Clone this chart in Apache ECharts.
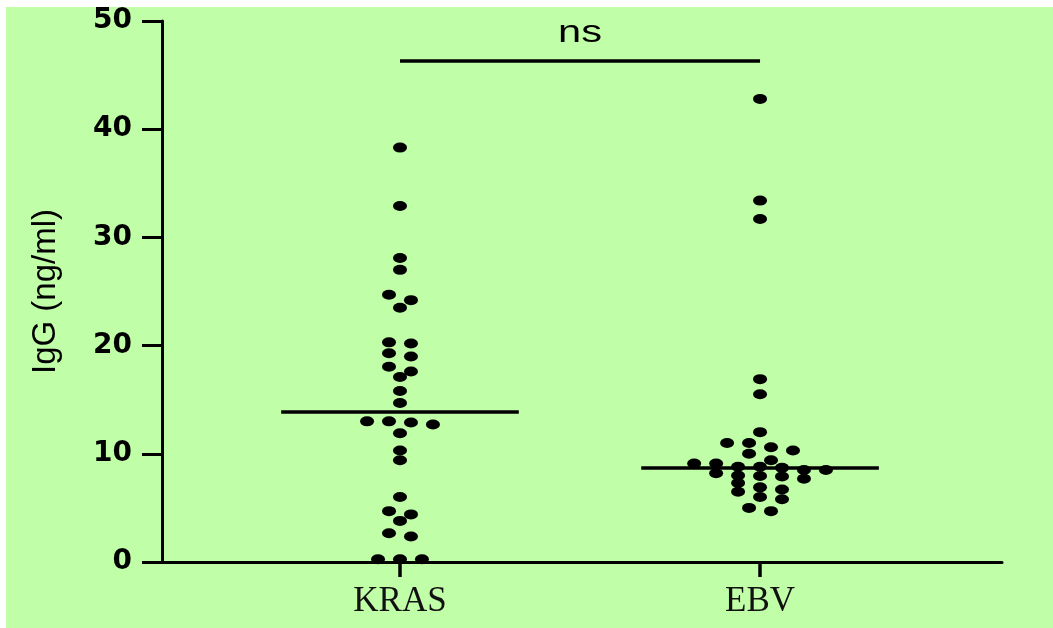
<!DOCTYPE html>
<html>
<head>
<meta charset="utf-8">
<script src="https://cdn.jsdelivr.net/npm/echarts@6/dist/echarts.min.js"></script>
<style>
html,body{margin:0;padding:0;background:#ffffff;}
#chart{width:1053px;height:628px;}
</style>
</head>
<body>
<div id="chart"></div>
<script>
// ---- data ----
const categories = ['KRAS', 'EBV'];
const krasValues = [38.3, 32.9, 28.1, 27.0, 24.7, 24.2, 23.5, 20.3, 20.2, 19.3, 19.0,
  18.05, 17.6, 17.1, 15.8, 14.7, 13.0, 13.0, 12.9, 12.7, 11.9, 10.3, 9.4, 6.0,
  4.7, 4.4, 3.8, 2.65, 2.35, 0.25, 0.25, 0.25];
const ebvValues = [42.8, 33.4, 31.7, 16.9, 15.5, 12.0, 11.0, 11.0, 10.6, 10.3, 10.0,
  9.4, 9.1, 9.1, 8.8, 8.8, 8.7, 8.5, 8.5, 8.2, 8.0, 7.95, 7.9, 7.7, 7.3, 6.9, 6.7,
  6.5, 6.0, 5.8, 5.0, 4.7];
const medians = [13.9, 8.75];
const significanceLevel = 46.3;
const significanceText = 'ns';
const yMin = 0, yMax = 50, yStep = 10;

// ---- layout / style constants ----
const DOT_STEP = 0.061;     // horizontal spacing of dots (x-axis units)
const ROW_TOL = 0.75;       // values closer than this share a row
const MEDIAN_HALF = 0.33;   // half width of the median line (x-axis units)

function swarm(values, center) {
  const s = values.slice().sort((a, b) => b - a);
  const out = [];
  let i = 0;
  while (i < s.length) {
    let j = i;
    while (j < s.length && s[i] - s[j] <= ROW_TOL) j++;
    const n = j - i;
    for (let k = 0; k < n; k++) out.push([center + (k - (n - 1) / 2) * DOT_STEP, s[i + k]]);
    i = j;
  }
  return out;
}

const groups = [krasValues, ebvValues];
const lineStyle = {color: '#000', width: 3.5, type: 'solid'};

const series = groups.map((vals, gi) => {
  const c = gi + 1;
  const markData = [[
    {coord: [c - MEDIAN_HALF, medians[gi]]},
    {coord: [c + MEDIAN_HALF, medians[gi]]}
  ]];
  if (gi === 0) {
    markData.push([
      {coord: [1, significanceLevel]},
      {coord: [2, significanceLevel]}
    ]);
  }
  return {
    type: 'scatter',
    name: categories[gi],
    data: swarm(vals, c),
    symbol: 'circle',
    symbolSize: [14, 10],
    itemStyle: {color: '#000', opacity: 1},
    clip: false,
    silent: true,
    markLine: {
      silent: true,
      symbol: ['none', 'none'],
      label: {show: false},
      lineStyle: lineStyle,
      emphasis: {disabled: true},
      animation: false,
      data: markData
    }
  };
});

const bgRect = {
  type: 'rect', left: 6, top: 7, z: -100,
  shape: {width: 1047, height: 621},
  style: {fill: '#c0ffa8'},
  silent: true
};

const chart = echarts.init(document.getElementById('chart'), null, {renderer: 'canvas'});
chart.setOption({
  animation: false,
  backgroundColor: '#ffffff',
  graphic: [bgRect],
  grid: {left: 162, right: 51, top: 21, bottom: 66, containLabel: false},
  xAxis: {
    type: 'value',
    min: 0.339, max: 2.672,
    axisLine: {show: true, onZero: false, lineStyle: {color: '#000', width: 3}},
    axisTick: {show: true, customValues: [1, 2], length: 15, lineStyle: {color: '#000', width: 3.5}},
    axisLabel: {
      show: true, customValues: [1, 2], margin: 22,
      formatter: v => categories[Math.round(v) - 1] || '',
      fontFamily: 'Liberation Serif', fontSize: 35, color: '#111'
    },
    splitLine: {show: false}
  },
  yAxis: {
    type: 'value',
    min: yMin, max: yMax, interval: yStep,
    name: 'IgG (ng/ml)',
    nameLocation: 'middle',
    nameRotate: 90,
    nameGap: 100,
    nameTextStyle: {fontFamily: 'Liberation Sans', fontSize: 33, color: '#000'},
    axisLine: {show: true, onZero: false, lineStyle: {color: '#000', width: 3}},
    axisTick: {show: true, length: 20, lineStyle: {color: '#000', width: 3}},
    axisLabel: {margin: 30, fontFamily: 'DejaVu Sans', fontWeight: 'bold', fontSize: 28, color: '#000'},
    splitLine: {show: false}
  },
  series: series
});

// "ns" label above the significance bar, positioned through the chart's scales
const p = chart.convertToPixel({gridIndex: 0}, [1.5, 48.85]);
chart.setOption({
  graphic: [bgRect, {
    type: 'text',
    x: p[0], y: p[1],
    scaleX: 1.3,
    z: 10,
    style: {
      text: significanceText,
      font: '32px "Liberation Sans"',
      fill: '#000',
      textAlign: 'center',
      textVerticalAlign: 'middle'
    },
    silent: true
  }]
});
</script>
</body>
</html>
